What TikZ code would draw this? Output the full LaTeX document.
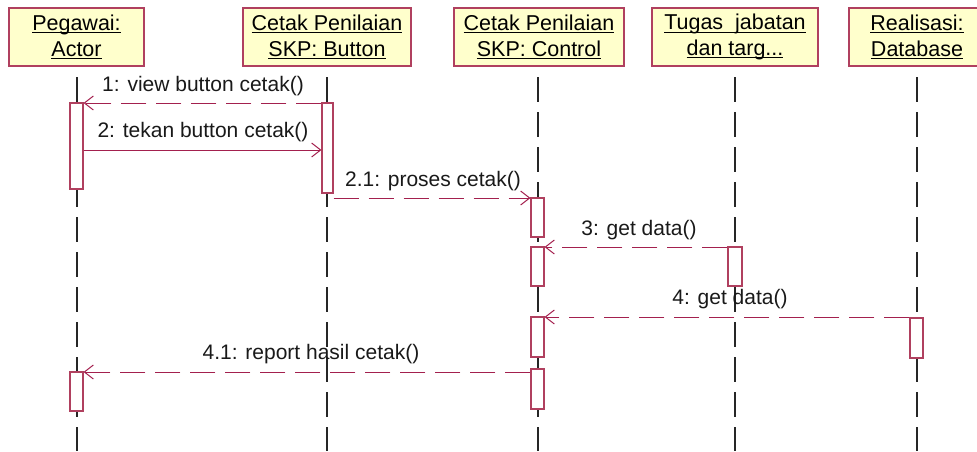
\documentclass[tikz,border=0pt]{standalone}
\usepackage{fontspec}
\setmainfont{Liberation Sans}
\usetikzlibrary{arrows.meta}
\definecolor{umlborder}{HTML}{B0405F}
\definecolor{umlline}{HTML}{A3204E}
\definecolor{umlfill}{HTML}{FFFFCC}
\newcommand\ulbox[1]{\setbox0\hbox{#1}\rlap{\rule[-2.8pt]{\wd0}{1.1pt}}\box0}
\begin{document}
\begin{tikzpicture}[x=1pt,y=-1pt,
  head/.style={draw=umlborder,fill=umlfill,line width=1.2pt,minimum height=58pt,inner sep=0pt,align=center,font=\fontsize{21.5pt}{25.5pt}\selectfont},
  act/.style={draw=umlborder,fill=white,line width=1.1pt,inner sep=0pt,minimum width=13pt},
  life/.style={draw=black!85,line width=1.5pt,dash pattern=on 25pt off 10pt},
  msg/.style={draw=umlline,line width=1pt,-{Straight Barb[length=9pt,width=14pt,line width=1pt]}},
  dmsg/.style={msg,dash pattern=on 25pt off 10pt},
  lbl/.style={font=\fontsize{21pt}{24pt}\selectfont,inner sep=0pt,text=black!90}]
\useasboundingbox (0,0) rectangle (977,451);
% heads
\node[head,minimum width=135pt] (h1) at (76.5,37) {\ulbox{Pegawai:}\\\ulbox{Actor}};
\node[head,minimum width=168pt] (h2) at (327,37) {\ulbox{Cetak Penilaian}\\\ulbox{SKP: Button}};
\node[head,minimum width=170pt] (h3) at (539,37) {\ulbox{Cetak Penilaian}\\\ulbox{SKP: Control}};
\node[head,minimum width=166pt] (h4) at (735,37) {\ulbox{Tugas~~jabatan}\\\ulbox{dan targ...}};
\node[head,minimum width=136pt] (h5) at (917,37) {\ulbox{Realisasi:}\\\ulbox{Database}};
% lifelines
\foreach \i/\x in {1/77,2/327,3/538,4/735,5/917}{
  \coordinate (lt\i) at (\x,77);
  \coordinate (lb\i) at (\x,451);
  \draw[life] (lt\i) -- (lb\i);
}
% activations
\node[act,minimum height=86pt] (a1) at (76.5,146) {};
\node[act,minimum height=39pt] (a2) at (76.5,391.5) {};
\node[act,minimum height=90pt,minimum width=11pt] (b1) at (327.5,148) {};
\node[act,minimum height=39pt] (c1) at (537.5,217.5) {};
\node[act,minimum height=39pt] (c2) at (537.5,266.5) {};
\node[act,minimum height=40pt] (c3) at (537.5,337) {};
\node[act,minimum height=40pt] (c4) at (537.5,389) {};
\node[act,minimum height=39pt,minimum width=14pt] (t1) at (735,266.5) {};
\node[act,minimum height=40pt] (d1) at (916.5,338) {};
% message levels
\coordinate (y1) at (0,103);
\coordinate (y2) at (0,150);
\coordinate (y21) at (0,198);
\coordinate (y3) at (0,247);
\coordinate (y4) at (0,317);
\coordinate (y41) at (0,372);
% messages
\draw[dmsg] (b1.west |- y1) -- (a1.east |- y1);
\draw[msg] (a1.east |- y2) -- (b1.west |- y2);
\draw[dmsg] (b1.east |- y21) -- (c1.west |- y21);
\draw[dmsg] (t1.west |- y3) -- (c2.east |- y3);
\draw[dmsg] (d1.west |- y4) -- (c3.east |- y4);
\draw[dmsg] (c4.west |- y41) -- (a2.east |- y41);
% labels
\node[lbl] (l1) at (203,86) {1: view button cetak()};
\node[lbl] (l2) at (203,132) {2: tekan button cetak()};
\node[lbl] (l21) at (433,181) {2.1: proses cetak()};
\node[lbl] (l3) at (639,230) {3: get data()};
\node[lbl] (l4) at (730,299) {4: get data()};
\node[lbl] (l41) at (311,354) {4.1: report hasil cetak()};
\end{tikzpicture}
\end{document}
